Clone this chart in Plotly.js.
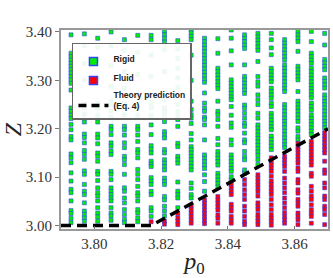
<!DOCTYPE html>
<html>
<head>
<meta charset="utf-8">
<script src="https://cdn.plot.ly/plotly-3.0.1.min.js"></script>
<style>
html,body{margin:0;padding:0;background:#fff;}
#chart{width:333px;height:278px;}
</style>
</head>
<body>
<div id="chart"></div>
<script>
// p0 value of each simulated column
var p0Values = [3.793, 3.797, 3.801, 3.805, 3.809, 3.813, 3.817, 3.821, 3.825, 3.829,
                3.833, 3.837, 3.841, 3.845, 3.849, 3.853, 3.857, 3.861, 3.865, 3.869];

// Z values classified as Rigid, one list per column
var rigidByColumn = [
  [3.394,3.356,3.349,3.342,3.335,3.329,3.322,3.315,3.308,3.301,3.294,3.280,3.243,3.236,3.228,3.221,3.209,3.198,3.184,3.177,3.148,3.140,3.130,3.109,3.092,3.075,3.068,3.051,3.031,3.025,3.015,3.006],
  [3.396,3.372,3.335,3.301,3.251,3.243,3.230,3.214,3.189,3.182,3.171,3.155,3.147,3.137,3.113,3.106,3.085,3.071,3.064,3.047,3.030,3.023,3.016,3.009],
  [3.387,3.368,3.342,3.302,3.253,3.243,3.228,3.214,3.189,3.181,3.169,3.150,3.143,3.133,3.112,3.106,3.093,3.078,3.068,3.061,3.051,3.037,3.026,3.018,3.009],
  [3.400,3.371,3.331,3.288,3.257,3.250,3.237,3.224,3.205,3.198,3.188,3.171,3.164,3.154,3.147,3.112,3.106,3.095,3.078,3.071,3.064,3.057,3.051,3.037,3.026,3.020,3.011],
  [3.384,3.362,3.318,3.283,3.253,3.229,3.205,3.198,3.187,3.171,3.161,3.143,3.136,3.126,3.106,3.078,3.071,3.057,3.047,3.033,3.023,3.013,3.006],
  [3.393,3.358,3.312,3.268,3.246,3.228,3.205,3.198,3.187,3.174,3.157,3.150,3.140,3.116,3.106,3.095,3.081,3.068,3.061,3.051,3.033,3.026,3.016,3.008],
  [3.393,3.384,3.352,3.308,3.253,3.243,3.228,3.208,3.188,3.165,3.158,3.150,3.133,3.127,3.122,3.099,3.092,3.085,3.071,3.064,3.037,3.030,3.019],
  [3.402,3.394,3.387,3.379,3.363,3.318,3.260,3.243,3.236,3.228,3.215,3.194,3.187,3.181,3.157,3.150,3.136,3.129,3.122,3.115,3.098,3.091,3.085,3.060,3.053,3.040,3.030,3.020],
  [3.382,3.365,3.345,3.325,3.305,3.285,3.250,3.236,3.226,3.219,3.205,3.170,3.163,3.143,3.136,3.129,3.090,3.071,3.064,3.057,3.037],
  [3.405,3.398,3.391,3.384,3.352,3.300,3.257,3.240,3.229,3.222,3.211,3.190,3.177,3.163,3.157,3.150,3.143,3.136,3.129,3.122,3.115,3.088,3.077,3.064,3.057],
  [3.387,3.380,3.373,3.366,3.359,3.352,3.345,3.338,3.331,3.324,3.317,3.310,3.303,3.296,3.274,3.253,3.243,3.236,3.224,3.219,3.208,3.177,3.146,3.139,3.132,3.125,3.118,3.105,3.091,3.071],
  [3.386,3.356,3.325,3.318,3.311,3.304,3.297,3.290,3.283,3.257,3.236,3.229,3.219,3.205,3.180,3.167,3.153,3.146,3.139,3.132,3.125,3.108,3.101,3.094,3.087,3.080],
  [3.404,3.387,3.361,3.332,3.301,3.294,3.287,3.280,3.273,3.266,3.260,3.246,3.228,3.212,3.203,3.177,3.167,3.146,3.139,3.132,3.125,3.118,3.112,3.101,3.094],
  [3.394,3.387,3.380,3.373,3.366,3.332,3.308,3.301,3.294,3.287,3.280,3.273,3.249,3.242,3.232,3.222,3.212,3.205,3.191,3.177,3.171,3.153,3.143,3.136,3.115,3.108],
  [3.397,3.390,3.383,3.376,3.369,3.362,3.339,3.308,3.297,3.288,3.270,3.260,3.250,3.232,3.222,3.208,3.201,3.194,3.187,3.180,3.173,3.166,3.159,3.152,3.145,3.136,3.126],
  [3.397,3.384,3.367,3.353,3.325,3.318,3.311,3.304,3.297,3.284,3.277,3.270,3.263,3.253,3.246,3.232,3.225,3.218,3.211,3.204,3.198,3.185,3.178,3.171,3.164,3.157],
  [3.384,3.377,3.370,3.363,3.356,3.349,3.342,3.332,3.325,3.318,3.311,3.304,3.297,3.290,3.283,3.277,3.250,3.243,3.236,3.229,3.222,3.215,3.209,3.202,3.195,3.188,3.181,3.174,3.167,3.161],
  [3.401,3.394,3.387,3.380,3.360,3.329,3.322,3.315,3.308,3.301,3.277,3.257,3.250,3.243,3.236,3.229,3.222,3.215,3.202,3.195,3.184,3.177],
  [3.401,3.380,3.356,3.349,3.342,3.335,3.325,3.318,3.311,3.304,3.297,3.290,3.283,3.277,3.270,3.264,3.253,3.246,3.239,3.229,3.222,3.215,3.209,3.202,3.195,3.188],
  [3.397,3.373,3.343,3.336,3.329,3.322,3.305,3.298,3.291,3.284,3.270,3.263,3.256,3.250,3.243,3.236,3.229,3.222,3.215,3.209,3.202]
];

// Z values classified as Fluid, one list per column
var fluidByColumn = [
  [], [], [], [], [], [],
  [3.008],
  [3.009,3.003],
  [3.025,3.016,3.009,3.002],
  [3.040,3.033,3.026,3.019,3.012,3.005],
  [3.053,3.046,3.039,3.032,3.025,3.018,3.011,3.004],
  [3.060,3.053,3.046,3.039,3.032,3.022,3.015,3.005],
  [3.085,3.078,3.071,3.064,3.044,3.037,3.030,3.019,3.012,3.005],
  [3.095,3.085,3.074,3.064,3.054,3.040,3.030,3.019,3.009,3.002],
  [3.105,3.098,3.091,3.084,3.077,3.070,3.061,3.047,3.040,3.033,3.023,3.016,3.009,3.002],
  [3.140,3.133,3.126,3.119,3.112,3.102,3.092,3.085,3.078,3.071,3.064,3.054,3.043,3.033,3.023,3.016,3.009,3.001],
  [3.143,3.136,3.129,3.122,3.112,3.098,3.088,3.078,3.068,3.057,3.047,3.037,3.027,3.019,3.012,3.005],
  [3.170,3.163,3.157,3.150,3.143,3.136,3.129,3.119,3.112,3.095,3.088,3.074,3.067,3.054,3.047,3.040,3.026,3.019,3.012,3.002],
  [3.174,3.167,3.160,3.153,3.146,3.139,3.132,3.125,3.108,3.102,3.081,3.071,3.061,3.054,3.043,3.033,3.026,3.019,3.005],
  [3.192,3.185,3.178,3.171,3.164,3.157,3.150,3.133,3.115,3.108,3.088,3.078,3.061,3.054,3.040,3.033,3.023,3.002]
];

// Theory prediction (Eq. 4)
var theoryP0 = [3.790, 3.817, 3.870];
var theoryZ  = [3.000, 3.000, 3.200];

var xTickVals = [3.80, 3.82, 3.84, 3.86];
var yTickVals = [3.00, 3.10, 3.20, 3.30, 3.40];

function flatten(byCol) {
  var xs = [], ys = [];
  byCol.forEach(function (list, i) {
    list.forEach(function (z) { xs.push(p0Values[i]); ys.push(z); });
  });
  return {x: xs, y: ys};
}
var rig = flatten(rigidByColumn);
var flu = flatten(fluidByColumn);

var edge = 'rgba(40,60,255,0.55)';
var traces = [
  {x: rig.x, y: rig.y, type: 'scatter', mode: 'markers', showlegend: false, hoverinfo: 'skip',
   marker: {symbol: 'square', size: 4, color: '#00f000', line: {color: edge, width: 1}}},
  {x: flu.x, y: flu.y, type: 'scatter', mode: 'markers', showlegend: false, hoverinfo: 'skip',
   marker: {symbol: 'square', size: 4, color: '#ff0000', line: {color: edge, width: 1}}},
  {x: theoryP0, y: theoryZ, type: 'scatter', mode: 'lines', showlegend: false,
   line: {color: '#000', width: 3.5, dash: '10px,6px'}},
  // legend entries
  {x: [null], y: [null], type: 'scatter', mode: 'markers', name: 'Rigid',
   marker: {symbol: 'square', size: 8, color: '#00f000', line: {color: '#3344ff', width: 1.5}}},
  {x: [null], y: [null], type: 'scatter', mode: 'markers', name: 'Fluid',
   marker: {symbol: 'square', size: 8, color: '#ff0000', line: {color: '#3344ff', width: 1.5}}},
  {x: [null], y: [null], type: 'scatter', mode: 'lines', name: 'Theory prediction<br>(Eq. 4)',
   line: {color: '#000', width: 3.5, dash: '8px,5px'}}
];

var serif = 'Liberation Serif, Times New Roman, serif';
var tickFont = {family: serif, size: 15, color: '#333'};
var layout = {
  width: 333, height: 278,
  margin: {l: 61, r: 5, t: 30, b: 49, pad: 0},
  paper_bgcolor: '#fff', plot_bgcolor: '#fff',
  showlegend: true,
  legend: {
    x: 0.041, y: 0.935, xanchor: 'left', yanchor: 'top',
    bgcolor: 'rgba(255,255,255,0.92)', bordercolor: '#666', borderwidth: 1.5,
    font: {family: 'Liberation Sans, Arial, sans-serif', size: 8.5, color: '#222', weight: 'bold'},
    tracegroupgap: 0, valign: 'bottom'
  },
  xaxis: {
    range: [3.79, 3.87], tickvals: xTickVals, tickformat: '.2f',
    showgrid: false, zeroline: false,
    showline: true, linecolor: '#999', linewidth: 2, mirror: true,
    ticks: 'inside', ticklen: 3, tickcolor: '#777', tickfont: tickFont,
    title: {text: '<i>p</i><sub>0</sub>', font: {family: serif, size: 24, color: '#222'}, standoff: 2}
  },
  yaxis: {
    range: [2.993, 3.404], tickvals: yTickVals, tickformat: '.2f',
    showgrid: false, zeroline: false,
    showline: true, linecolor: '#999', linewidth: 2, mirror: true,
    ticks: 'outside', ticklen: 4, tickcolor: '#777', tickfont: tickFont,
    title: {text: '<i>Z</i>', font: {family: serif, size: 24, color: '#222'}, standoff: 2}
  }
};

Plotly.newPlot('chart', traces, layout, {displayModeBar: false, staticPlot: true});
</script>
</body>
</html>
